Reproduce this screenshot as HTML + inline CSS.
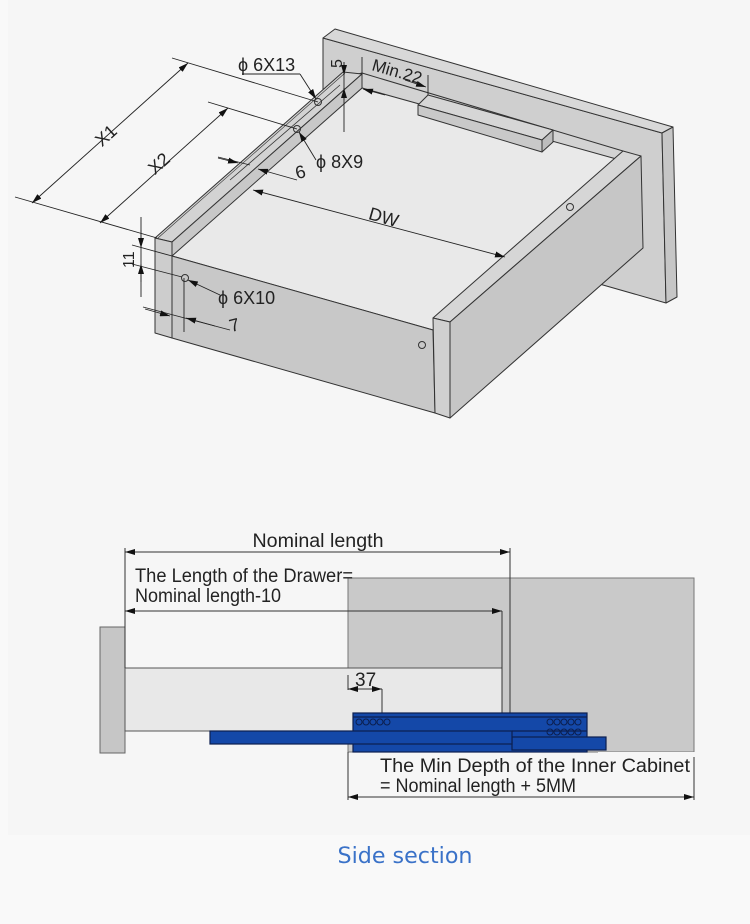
<!DOCTYPE html>
<html><head><meta charset="utf-8"><style>
html,body{margin:0;padding:0;background:#f9f9f9;}
svg{display:block;}
text{font-family:"Liberation Sans",Arial,sans-serif;fill:#222;}
</style></head><body>
<svg width="750" height="924" viewBox="0 0 750 924" xmlns="http://www.w3.org/2000/svg">
<defs>
<marker id="a" viewBox="0 0 10 6" refX="10" refY="3" markerWidth="10" markerHeight="6" markerUnits="userSpaceOnUse" orient="auto-start-reverse"><path d="M0,0L10,3L0,6z" fill="#111"/></marker>
</defs>
<rect x="8" y="0" width="742" height="835" fill="#f6f6f6"/>
<g stroke="#333" stroke-width="1" stroke-linejoin="round">
<polygon points="323,38 662,133 666,303 323,205" fill="#cfcfcf"/>
<polygon points="323,38 335,29 673,127 662,133" fill="#d8d8d8"/>
<polygon points="662,133 673,127 677,297 666,303" fill="#c6c6c6"/>
<polygon points="343,78 362,73 623,151 620,175 362,88" fill="#d3d3d3"/>
<polygon points="172,253 362,88 620,160 433,330 172,256" fill="#e9e9e9"/>
<polygon points="418,105 428,95 553,130 542,140" fill="#d6d6d6"/>
<polygon points="418,105 542,140 542,152 418,115" fill="#c9c9c9"/>
<polygon points="542,140 553,130 553,142 542,152" fill="#bdbdbd"/>
<polygon points="155,238 343,72 362,74 172,242" fill="#d3d3d3"/>
<polygon points="172,242 362,74 362,88 172,256" fill="#c8c8c8"/>
<line x1="230" y1="180" x2="340" y2="85" stroke-width="0.8"/>
<line x1="158" y1="238" x2="345" y2="73" stroke-width="0.6"/>
<polygon points="155,238 172,242 172,338 155,333" fill="#cdcdcd"/>
<polygon points="172,256 433,330 435,413 172,338" fill="#c8c8c8"/>
<polygon points="433,318 623,151 641,156 450,322" fill="#d6d6d6"/>
<polygon points="450,322 641,156 643,248 450,418" fill="#c6c6c6"/>
<polygon points="433,318 450,322 450,418 435,413" fill="#d0d0d0"/>
</g>
<g fill="none" stroke="#333" stroke-width="1">
<circle cx="318" cy="102" r="3.5"/><circle cx="297" cy="129" r="3.5"/>
<circle cx="185" cy="278" r="3.5"/><circle cx="422" cy="345" r="3.5"/><circle cx="570" cy="207" r="3.5"/>
</g>
<g stroke="#222" stroke-width="0.9" fill="none">
<line x1="172" y1="58" x2="318" y2="102"/>
<line x1="15" y1="197" x2="157" y2="238"/>
<line x1="188" y1="63" x2="32" y2="203" marker-start="url(#a)" marker-end="url(#a)"/>
<line x1="208" y1="102" x2="297" y2="129"/>
<line x1="228" y1="108" x2="100" y2="223" marker-start="url(#a)" marker-end="url(#a)"/>
<line x1="218" y1="157" x2="250" y2="165"/>
<line x1="218" y1="158" x2="238" y2="163" marker-end="url(#a)"/>
<line x1="297" y1="180" x2="258" y2="169" marker-end="url(#a)"/>
<line x1="505" y1="257" x2="253" y2="190" marker-start="url(#a)" marker-end="url(#a)"/>
<line x1="242" y1="74" x2="300" y2="74"/><line x1="300" y1="74" x2="316" y2="99" marker-end="url(#a)"/>
<line x1="316" y1="160" x2="299" y2="132" marker-end="url(#a)"/>
<line x1="344" y1="62" x2="344" y2="132"/>
<line x1="344" y1="62" x2="344" y2="75" marker-end="url(#a)"/>
<line x1="344" y1="100" x2="344" y2="88" marker-end="url(#a)"/>
<line x1="362" y1="57" x2="362" y2="75"/><line x1="428" y1="75" x2="428" y2="95"/>
<line x1="385" y1="95" x2="363" y2="89" marker-end="url(#a)"/>
<line x1="405" y1="80" x2="426" y2="87" marker-end="url(#a)"/>
<line x1="141" y1="217" x2="141" y2="297"/>
<line x1="132" y1="245" x2="172" y2="256"/><line x1="132" y1="264" x2="182" y2="277"/>
<line x1="141" y1="230" x2="141" y2="248" marker-end="url(#a)"/>
<line x1="141" y1="282" x2="141" y2="264" marker-end="url(#a)"/>
<line x1="220" y1="295" x2="188" y2="280" marker-end="url(#a)"/>
<line x1="184" y1="278" x2="184" y2="332"/>
<line x1="143" y1="307" x2="230" y2="330"/>
<line x1="145" y1="309" x2="170" y2="316" marker-end="url(#a)"/>
<line x1="215" y1="326" x2="186" y2="318" marker-end="url(#a)"/>
</g>
<g font-size="18">
<text x="238" y="71">ϕ 6X13</text>
<text x="316" y="168">ϕ 8X9</text>
<text x="218" y="304">ϕ 6X10</text>
<text transform="translate(110,140) rotate(-42)" text-anchor="middle">X1</text>
<text transform="translate(163,168) rotate(-42)" text-anchor="middle">X2</text>
<text transform="translate(302,178) rotate(-15)" text-anchor="middle">6</text>
<text transform="translate(236,331) rotate(-15)" text-anchor="middle">7</text>
<text transform="translate(382,223) rotate(16)" text-anchor="middle">DW</text>
<text transform="translate(342,68) rotate(-90)" font-size="16">5</text>
<text transform="translate(371,70) rotate(16)" font-size="17">Min.22</text>
<text transform="translate(134,268) rotate(-90)" font-size="16">11</text>
</g>
<rect x="348" y="578" width="346" height="174" fill="#c9c9c9" stroke="#777" stroke-width="1"/>
<rect x="100" y="627" width="25" height="126" fill="#c6c6c6" stroke="#666" stroke-width="1"/>
<rect x="125" y="668" width="377" height="63" fill="#e8e8e8" stroke="#555" stroke-width="1"/>
<g stroke="#333" stroke-width="1" fill="none">
<line x1="125" y1="548" x2="125" y2="668"/>
<line x1="510" y1="548" x2="510" y2="735"/>
<line x1="502" y1="611" x2="502" y2="735"/>
<line x1="125" y1="552" x2="510" y2="552" marker-start="url(#a)" marker-end="url(#a)"/>
<line x1="125" y1="611" x2="502" y2="611" marker-start="url(#a)" marker-end="url(#a)"/>
<line x1="348" y1="675" x2="348" y2="690"/>
<line x1="348" y1="689" x2="382" y2="689" marker-start="url(#a)" marker-end="url(#a)"/>
<line x1="382" y1="689" x2="382" y2="715"/>
<line x1="348" y1="752" x2="348" y2="800"/><line x1="694" y1="752" x2="694" y2="800"/>
<line x1="348" y1="797" x2="694" y2="797" marker-start="url(#a)" marker-end="url(#a)"/>
</g>
<rect x="598" y="752" width="100" height="5" fill="#f6f6f6"/>
<g stroke="#0c1f4f" stroke-width="1.2">
<rect x="353" y="713" width="234" height="39" fill="#1448a8"/>
<rect x="512" y="737" width="94" height="13" fill="#1448a8"/>
<rect x="210" y="731" width="302" height="13" fill="#1448a8"/>
<line x1="353" y1="717" x2="587" y2="717"/>
<line x1="512" y1="731" x2="587" y2="731"/>
</g>
<g fill="none" stroke="#0c1f4f" stroke-width="1">
<circle cx="359" cy="722" r="3"/><circle cx="366" cy="722" r="3"/><circle cx="373" cy="722" r="3"/><circle cx="380" cy="722" r="3"/><circle cx="387" cy="722" r="3"/>
<circle cx="550" cy="722" r="3"/><circle cx="557" cy="722" r="3"/><circle cx="564" cy="722" r="3"/><circle cx="571" cy="722" r="3"/><circle cx="578" cy="722" r="3"/>
<circle cx="550" cy="732" r="3"/><circle cx="557" cy="732" r="3"/><circle cx="564" cy="732" r="3"/><circle cx="571" cy="732" r="3"/><circle cx="578" cy="732" r="3"/>
</g>
<g font-size="19">
<text x="318" y="547" text-anchor="middle" textLength="131" lengthAdjust="spacingAndGlyphs">Nominal length</text>
<text x="135" y="582" textLength="218" lengthAdjust="spacingAndGlyphs">The Length of the Drawer=</text>
<text x="135" y="602" textLength="146" lengthAdjust="spacingAndGlyphs">Nominal length-10</text>
<text x="355" y="686">37</text>
<text x="380" y="772" textLength="310" lengthAdjust="spacingAndGlyphs">The Min Depth of the Inner Cabinet</text>
<text x="380" y="792" textLength="196" lengthAdjust="spacingAndGlyphs">= Nominal length + 5MM</text>
</g>
<text x="405" y="863" text-anchor="middle" font-size="22" textLength="135" lengthAdjust="spacingAndGlyphs" style="fill:#3a72c8;font-family:'DejaVu Sans','Liberation Sans',sans-serif;">Side section</text>
</svg>
</body></html>
